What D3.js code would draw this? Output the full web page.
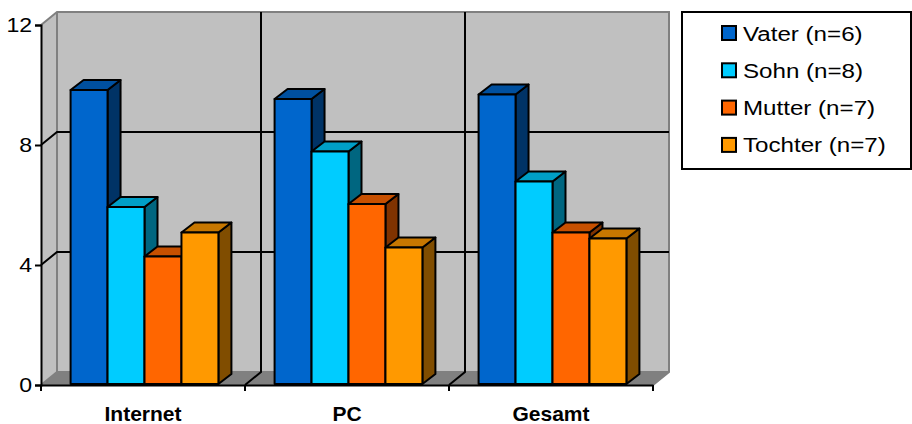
<!DOCTYPE html>
<html>
<head>
<meta charset="utf-8">
<script src="https://cdn.jsdelivr.net/npm/d3@7"></script>
<style>
  html, body { margin: 0; padding: 0; background: #fff; }
  svg { display: block; font-family: "Liberation Sans", Arial, sans-serif; }
</style>
</head>
<body>
<svg id="chart" width="912" height="424"></svg>
<script>
// Categories, series and their values
const categories = ["Internet", "PC", "Gesamt"];
const seriesNames = ["Vater (n=6)", "Sohn (n=8)", "Mutter (n=7)", "Tochter (n=7)"];
const vater   = [9.8, 9.5, 9.65];
const sohn    = [5.9, 7.75, 6.75];
const mutter  = [4.25, 6.0, 5.05];
const tochter = [5.05, 4.55, 4.85];
const yTicks = [0, 4, 8, 12];

const seriesValues = [vater, sohn, mutter, tochter];
const frontColors = ["#0066CC", "#00CCFF", "#FF6600", "#FF9900"];

const svg = d3.select("#chart");

// Plot frame (front plane) and 3D depth of walls / bars
const plotLeft = 41, plotRight = 653, plotBottom = 385, plotTop = 25;
const wall = { dx: 16, dy: -13 };
const bar = { dx: 13, dy: -10 };
const barOff = { dx: (wall.dx - bar.dx) / 2, dy: -1 };

const y = d3.scaleLinear().domain([0, 12]).range([plotBottom, plotTop]);
const x = d3.scaleBand().domain(categories).range([plotLeft, plotRight]).padding(0);
const xs = d3.scaleBand().domain(seriesNames).range([0, x.bandwidth()])
  .paddingInner(0).paddingOuter(0.76);

const poly = pts => "M" + pts.map(p => p.join(",")).join("L") + "Z";

// Back wall
svg.append("path")
  .attr("d", poly([[plotLeft + wall.dx, plotTop + wall.dy], [plotRight + wall.dx, plotTop + wall.dy],
                   [plotRight + wall.dx, plotBottom + wall.dy], [plotLeft + wall.dx, plotBottom + wall.dy]]))
  .attr("fill", "#C0C0C0");
// Side wall
svg.append("path")
  .attr("d", poly([[plotLeft, plotTop], [plotLeft + wall.dx, plotTop + wall.dy],
                   [plotLeft + wall.dx, plotBottom + wall.dy], [plotLeft, plotBottom]]))
  .attr("fill", "#C0C0C0");
// Floor
svg.append("path")
  .attr("d", poly([[plotLeft, plotBottom], [plotRight, plotBottom],
                   [plotRight + wall.dx, plotBottom + wall.dy], [plotLeft + wall.dx, plotBottom + wall.dy]]))
  .attr("fill", "#808080");

// Wall edges
const edges = svg.append("g").attr("stroke", "#808080").attr("stroke-width", 2).attr("fill", "none");
edges.append("path").attr("d", `M${plotLeft},${plotTop}L${plotLeft + wall.dx},${plotTop + wall.dy}L${plotRight + wall.dx},${plotTop + wall.dy}L${plotRight + wall.dx},${plotBottom + wall.dy}L${plotRight},${plotBottom}`);
edges.append("path").attr("d", `M${plotLeft + wall.dx},${plotTop + wall.dy}L${plotLeft + wall.dx},${plotBottom + wall.dy}L${plotRight + wall.dx},${plotBottom + wall.dy}`);
edges.append("path").attr("d", `M${plotLeft},${plotBottom}L${plotLeft + wall.dx},${plotBottom + wall.dy}`);

// Horizontal gridlines across side wall and back wall
const grid = svg.append("g").attr("stroke", "#000").attr("stroke-width", 2).attr("fill", "none");
yTicks.filter(t => t > 0 && t < 12).forEach(t => {
  const yy = y(t);
  grid.append("path")
    .attr("d", `M${plotLeft},${yy}L${plotLeft + wall.dx},${yy + wall.dy}L${plotRight + wall.dx},${yy + wall.dy}`);
});
// Category separators on the back wall and floor
categories.slice(1).forEach(c => {
  const xx = x(c);
  grid.append("path")
    .attr("d", `M${xx},${plotBottom}L${xx + wall.dx},${plotBottom + wall.dy}L${xx + wall.dx},${plotTop + wall.dy}`);
});

// Shade helper for the side and top faces
const shade = (c, k) => { const r = d3.rgb(c); return d3.rgb(r.r * k, r.g * k, r.b * k).formatHex(); };

// 3D bars, drawn left to right so that each bar covers its neighbour's side face
const barsG = svg.append("g").attr("stroke", "#000").attr("stroke-width", 2).attr("stroke-linejoin", "round");
categories.forEach((c, ci) => {
  seriesNames.forEach((s, si) => {
    const v = seriesValues[si][ci];
    const x0 = x(c) + xs(s) + barOff.dx;
    const x1 = x0 + xs.bandwidth();
    const yb = y(0) + barOff.dy;
    const yt = y(v) + barOff.dy;
    const col = frontColors[si];
    const g = barsG.append("g");
    g.append("path")
      .attr("d", poly([[x1, yt], [x1 + bar.dx, yt + bar.dy], [x1 + bar.dx, yb + bar.dy], [x1, yb]]))
      .attr("fill", shade(col, 0.5));
    g.append("path")
      .attr("d", poly([[x0, yt], [x0 + bar.dx, yt + bar.dy], [x1 + bar.dx, yt + bar.dy], [x1, yt]]))
      .attr("fill", shade(col, 0.78));
    g.append("path")
      .attr("d", poly([[x0, yt], [x1, yt], [x1, yb], [x0, yb]]))
      .attr("fill", col);
  });
});

// Value axis
const yAxis = d3.axisLeft(y).tickValues(yTicks).tickSize(6).tickPadding(3).tickFormat(d3.format("d"));
const yg = svg.append("g").attr("transform", `translate(${plotLeft},0)`).call(yAxis);
yg.select(".domain").attr("stroke", "#000").attr("stroke-width", 2);
yg.selectAll(".tick line").attr("stroke", "#000").attr("stroke-width", 2);
yg.selectAll(".tick text").attr("font-size", 21).attr("fill", "#000")
  .attr("font-family", "'Liberation Sans', Arial, sans-serif")
  .attr("x", -8).attr("transform", "scale(1.1,1)");

// Category axis
const xAxis = d3.axisBottom(x).tickSize(0).tickPadding(21);
const xg = svg.append("g").attr("transform", `translate(0,${plotBottom})`).call(xAxis);
xg.select(".domain").attr("stroke", "#000").attr("stroke-width", 2);
xg.selectAll(".tick text").attr("font-size", 21).attr("font-weight", "bold").attr("fill", "#000")
  .attr("font-family", "'Liberation Sans', Arial, sans-serif");
// Tick marks at the category boundaries
xg.selectAll(".bound").data(categories.concat(["end"])).enter().append("line")
  .attr("class", "bound")
  .attr("x1", (d, i) => i < categories.length ? x(d) : plotRight)
  .attr("x2", (d, i) => i < categories.length ? x(d) : plotRight)
  .attr("y1", 0).attr("y2", 6).attr("stroke", "#000").attr("stroke-width", 2);

// Legend
const lg = svg.append("g");
lg.append("rect").attr("x", 682).attr("y", 12).attr("width", 229).attr("height", 157)
  .attr("fill", "#fff").attr("stroke", "#000").attr("stroke-width", 2);
const rows = lg.selectAll(".row").data(seriesNames).enter().append("g")
  .attr("transform", (d, i) => `translate(722,${33 + i * 37.3})`);
rows.append("rect").attr("x", 0).attr("y", -7).attr("width", 14).attr("height", 14)
  .attr("fill", (d, i) => frontColors[i]).attr("stroke", "#000").attr("stroke-width", 2);
rows.append("text").attr("transform", "translate(21,0) scale(1.15,1)").attr("dy", "0.36em")
  .attr("font-size", 21).attr("fill", "#000").text(d => d);
</script>
</body>
</html>
